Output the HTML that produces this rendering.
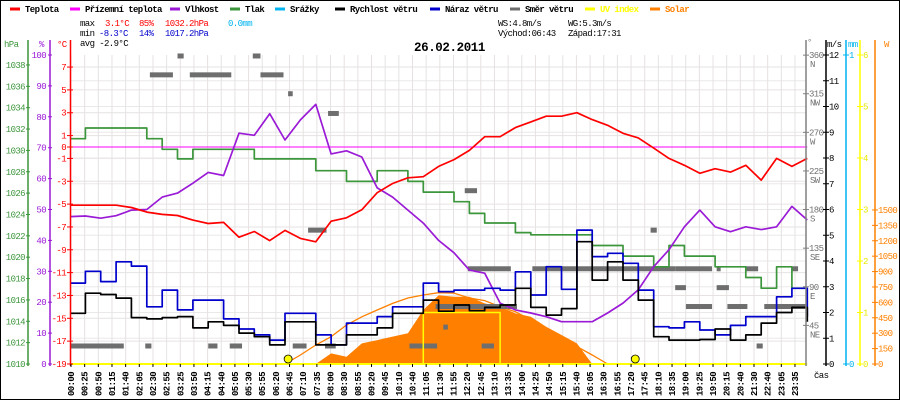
<!DOCTYPE html>
<html><head><meta charset="utf-8">
<style>
html,body{margin:0;padding:0;background:#fff;}
#wrap{position:relative;width:900px;height:400px;overflow:hidden;}
svg{display:block;font-family:"Liberation Mono","DejaVu Sans Mono",monospace;}
</style></head>
<body>
<div id="wrap">
<svg id="chart" width="900" height="400" viewBox="0 0 900 400">
<rect x="0.5" y="0.5" width="899" height="399" fill="#fff" stroke="#000"/>
<g id="grid"></g>
<g id="series"></g>
<g id="axes"></g>
<g id="legend"></g>
<g font-size="9" letter-spacing="-0.6">
<text x="80" y="26" fill="#000">max</text>
<text x="105" y="26" fill="#ff0000">3.1°C</text>
<text x="139" y="26" fill="#ff0000">85%</text>
<text x="165" y="26" fill="#ff0000">1032.2hPa</text>
<text x="228" y="26" fill="#00b4f0">0.0mm</text>
<text x="80" y="36" fill="#000">min</text>
<text x="99" y="36" fill="#0000cc">-8.3°C</text>
<text x="139" y="36" fill="#0000cc">14%</text>
<text x="165" y="36" fill="#0000cc">1017.2hPa</text>
<text x="80" y="46" fill="#000">avg -2.9°C</text>
<text x="498" y="26" fill="#000">WS:4.8m/s</text>
<text x="568" y="26" fill="#000">WG:5.3m/s</text>
<text x="498" y="36" fill="#000">Východ:06:43</text>
<text x="568" y="36" fill="#000">Západ:17:31</text>
</g>
<text x="414" y="51" font-size="12.5" font-weight="bold" letter-spacing="-0.4" fill="#000">26.02.2011</text>
</svg>
</div>
<script>
const timeLabels=["00:00","00:25","00:50","01:15","01:40","02:05","02:30","02:55","03:25","03:50","04:15","04:40","05:05","05:30","05:55","06:20","06:45","07:10","07:35","08:00","08:30","08:55","09:20","09:45","10:10","10:40","11:05","11:30","11:55","12:20","12:45","13:10","13:35","14:00","14:25","14:50","15:15","15:40","16:05","16:30","16:55","17:20","17:45","18:10","18:35","19:00","19:25","19:50","20:15","20:40","21:30","22:40","23:05","23:35"];
const temperature=[-5.1,-5.1,-5.1,-5.1,-5.3,-5.7,-5.9,-6.0,-6.4,-6.7,-6.6,-7.9,-7.4,-8.2,-7.3,-8.0,-8.3,-6.5,-6.2,-5.5,-4.0,-3.2,-2.7,-2.6,-1.7,-1.1,-0.3,0.9,0.9,1.7,2.2,2.7,2.7,3.0,2.4,1.9,1.2,0.8,-0.1,-1.0,-1.6,-2.3,-1.9,-2.2,-1.6,-2.9,-1.0,-1.7,-1.0];
const groundTemp=[0,0,0,0,0,0,0,0,0,0,0,0,0,0,0,0,0,0,0,0,0,0,0,0,0,0,0,0,0,0,0,0,0,0,0,0,0,0,0,0,0,0,0,0,0,0,0,0,0];
const humidity=[47.7,47.9,47.2,48,49.8,50,54,55.3,58.5,62,61,74.7,74,81,72.5,79,84,68,69,67,57,54,49.8,45.6,40,36,30.4,29.4,19.7,17.5,16.5,15.3,13.7,13.7,13.7,16.5,19.7,24,31.5,37,44.4,49.8,44.4,42.8,44.4,43.5,44.4,51,46.6];
const pressure=[1031.1,1032.1,1032.1,1032.1,1032.1,1031.1,1030.1,1029.2,1030.1,1030.1,1030.1,1030.1,1029.2,1029.2,1029.2,1029.2,1028.1,1028.1,1027.1,1027.1,1028.1,1028.1,1027.1,1026.1,1026.1,1025.2,1024.1,1023.2,1023.2,1022.3,1022.1,1022.1,1022.1,1022.1,1021.1,1021.1,1020.1,1020.1,1019.1,1021.1,1020.1,1020.1,1019.1,1019.1,1018.1,1017.1,1019.1,1017.1,1017.1];
const windSpeed=[1.97,2.75,2.7,2.56,1.8,1.75,1.8,1.84,1.4,1.64,1.5,1.2,1.06,0.74,1.64,1.64,0.74,0.74,1.13,1.13,1.4,1.97,1.97,2.48,2.05,2.29,2.07,2.2,2.29,2.94,2.2,1.9,2.15,4.75,3.26,3.97,3.26,2.48,1.06,0.93,0.93,0.95,1.36,0.93,1.13,1.59,2.0,2.2,1.64];
const windGust=[3.14,3.6,3.2,3.97,3.8,2.22,2.87,2.1,2.48,2.48,1.75,1.36,1.13,0.93,1.97,1.97,1.13,0.74,1.59,1.59,1.84,2.22,2.22,3.14,2.81,2.87,2.87,2.94,2.87,3.58,2.68,3.78,2.9,5.2,4.17,4.3,3.91,2.87,1.45,1.4,1.64,1.32,1.13,1.5,1.84,1.84,2.61,2.94,1.84];
const solar=[0,0,0,0,0,0,0,0,0,0,0,0,0,0,0,0,0,104,71,201,233,266,299,526,670,655,655,590,558,493,460,363,282,201,0,0,0,0,0,0,0,0,0,0,0,0,0,0,0];
const clearSky=[0,0,0,0,0,0,0,0,0,0,0,0,0,0,0,88,185,266,380,460,526,590,643,672,694,690,643,617,558,509,428,347,253,169,88,0,0,0,0,0,0,0,0,0,0,0,0,0,0];
const uvIndex=[0,0,0,0,0,0,0,0,0,0,0,0,0,0,0,0,0,0,0,0,0,0,0,1,1,1,1,1,0,0,0,0,0,0,0,0,0,0,0,0,0,0,0,0,0,0,0,0,0];
const dirStart=[7.0,11.9,5.2,7.8,12.4,14.2,16.8,25.7,25.9,30.1,15.5,0,4.9,9.0,10.4,14.5,16.6,22.1,26.8,28.5,37.8,39.4,42.1,44.0,47.0,39.4,42.1,23.8,40.1,42.8,45.2,24.3,44.7];
const dirEnd=[7.4,12.4,6.7,10.5,13.9,14.5,17.5,26.5,28.7,39.4,16.7,3.5,5.3,9.6,11.2,15.4,17.3,23.9,27.6,29.1,38.2,41.8,42.3,44.8,47.4,40.1,42.9,28.5,41.8,44.1,48.0,24.6,45.1];
const dirDeg=[359,359,337,337,337,315,292,202,111,111,156,21,21,21,21,21,21,21,21,67,156,111,111,111,111,89,89,67,67,67,67,43,21];
const sunIdx=[14.2,36.8];

const NS="http://www.w3.org/2000/svg";
const X0=70, DX=15.36;
const xS=i=>X0+i*DX;
const tempY=t=>147-t*11.42;
const humY=h=>364-h*3.09;
const presY=p=>364-(p-1010)*10.68;
const windY=v=>364-v*25.75;
const dirY=d=>364-d*0.858;
const solY=w=>364-w*0.1027;
const uvY=u=>364-u*51.5;
function el(tag,attrs,parent){const e=document.createElementNS(NS,tag);for(const k in attrs)e.setAttribute(k,attrs[k]);parent.appendChild(e);return e;}
const gGrid=document.getElementById('grid'),gS=document.getElementById('series'),gA=document.getElementById('axes'),gL=document.getElementById('legend');

const tempTicks=[7,5,3,1,-1,-3,-5,-7,-9,-11,-13,-15,-17];
tempTicks.forEach(t=>{const l=el('line',{x1:71,x2:806,y1:tempY(t),y2:tempY(t),stroke:'#e6e2e2','stroke-width':1},gGrid);

});
[1,2,3,4,5,6,7,8,9,10,11].forEach(v=>{const l=el('line',{x1:71,x2:806,y1:windY(v),y2:windY(v),stroke:'#ebe8e8','stroke-width':1},gGrid);

});
timeLabels.forEach((s,j)=>{const x=71+j*13.66;const l=el('line',{x1:x,x2:x,y1:55,y2:364,stroke:'#e6e2e2','stroke-width':1},gGrid);

});

let d='M'+xS(0)+','+solY(0);solar.forEach((w,i)=>{d+=' L'+xS(i)+','+solY(w);});d+=' L'+xS(solar.length-1)+','+solY(0)+' Z';
const sf=el('path',{d:d,fill:'#ff8000',stroke:'none'},gS);



function linePath(arr,yf){return arr.map((v,i)=>(i?'L':'M')+xS(i).toFixed(1)+','+yf(v).toFixed(1)).join(' ');}
function stepPath(arr,yf){let s='';arr.forEach((v,i)=>{const y=yf(v).toFixed(1);if(i===0)s='M'+xS(0)+','+y;else s+=' L'+xS(i).toFixed(1)+','+yf(arr[i-1]).toFixed(1)+' L'+xS(i).toFixed(1)+','+y;});return s;}

const cs=el('path',{d:clearSky.slice(14,36).map((v,k)=>(k?'L':'M')+xS(k+14).toFixed(1)+','+solY(v).toFixed(1)).join(' '),fill:'none',stroke:'#ff8000','stroke-width':1.3},gS);



dirDeg.forEach((dg,k)=>{const x1=xS(dirStart[k]),x2=xS(dirEnd[k]);const r=el('rect',{x:x1,y:dirY(dg)-2.5,width:Math.max(4,x2-x1),height:5,fill:'#6e6e6e'},gS);

});

const uvl=el('path',{d:stepPath(uvIndex,uvY),fill:'none',stroke:'#ffff00','stroke-width':1.5},gS);



const series=[[pressure,presY,'#3c963c','pressure-line',true],[groundTemp,tempY,'#ff00ff','ground-temp-line',false],[humidity,humY,'#9a1ad6','humidity-line',false],[temperature,tempY,'#ff0000','temperature-line',false],[windGust,windY,'#0000cc','wind-gust-line',true],[windSpeed,windY,'#000000','wind-speed-line',true]];
series.forEach(s=>{const p=el('path',{d:s[4]?stepPath(s[0],s[1]):linePath(s[0],s[1]),fill:'none',stroke:s[2],'stroke-width':s[3]==='ground-temp-line'?1:1.7,'stroke-linejoin':'round'},gS);

});

const base=el('line',{x1:71,x2:806,y1:364,y2:364,stroke:'#ffff00','stroke-width':2},gS);


sunIdx.forEach(i=>{const c=el('circle',{cx:xS(i),cy:359,r:4,fill:'#ffff00',stroke:'#000','stroke-width':0.8},gS);

});

function axis(x,y1,y2,color,name){const l=el('line',{x1:x,x2:x,y1:y1,y2:y2,stroke:color,'stroke-width':1.5},gA);

}
function label(x,y,txt,color,anchor,name){const t=el('text',{x:x,y:y,fill:color,'font-size':9,'letter-spacing':-0.6,'text-anchor':anchor||'start'},gA);t.textContent=txt;

return t;}
function tick(x1,x2,y,color){el('line',{x1:x1,x2:x2,y1:y,y2:y,stroke:color,'stroke-width':1},gA);}
axis(28,40,366,'#3c963c','pressure-axis');axis(50,40,366,'#9a1ad6','humidity-axis');axis(70.5,40,366,'#ff0000','temperature-axis');
axis(806,40,366,'#808080','direction-axis');axis(826,40,366,'#000','wind-axis');axis(846,40,366,'#00b4f0','rain-axis');axis(860,40,366,'#ffff00','uv-axis');axis(875,40,366,'#ff8000','solar-axis');
label(4,47,'hPa','#3c963c','start','pressure-axis-title');label(39,47,'%','#9a1ad6','start','humidity-axis-title');label(57,47,'°C','#ff0000','start','temperature-axis-title');
label(807,45,'°','#808080','start','direction-axis-title');label(827,47,'m/s','#000','start','wind-axis-title');label(848,47,'mm','#00b4f0','start','rain-axis-title');label(884,47,'W','#ff8000','start','solar-axis-title');
const presTicks=[1010,1012,1014,1016,1018,1020,1022,1024,1026,1028,1030,1032,1034,1036,1038];
presTicks.forEach(p=>{tick(26,30,presY(p),'#3c963c');label(25,presY(p)+3,String(p),'#3c963c','end','pressure-tick-label');});
const humTicks=[0,10,20,30,40,50,60,70,80,90,100];
humTicks.forEach(h=>{tick(48,52,humY(h),'#9a1ad6');label(46,humY(h)+3,String(h),'#9a1ad6','end','humidity-tick-label');});
const tempLabelTicks=[7,5,3,1,0,-1,-3,-5,-7,-9,-11,-13,-15,-17,-19];
tempLabelTicks.forEach(t=>{tick(67,73,tempY(t),'#ff0000');label(66,tempY(t)+3,String(t),'#ff0000','end','temperature-tick-label');});
const dirTicks=[360,315,270,225,180,135,90,45];const dirNames=['N','NW','W','SW','S','SE','E','NE'];
dirTicks.forEach((v,k)=>{tick(803,809,dirY(v),'#808080');label(809,dirY(v)+3,String(v),'#707070','start','direction-tick-label');label(810,dirY(v)+12,dirNames[k],'#707070','start','direction-name-label');});
const windTicks=[0,1,2,3,4,5,6,7,8,9,10,11,12];
windTicks.forEach(v=>{tick(823,829,windY(v),'#000');label(829,windY(v)+3,String(v),'#000','start','wind-tick-label');});
tick(843,849,55,'#00b4f0');label(849,58,'1','#00b4f0','start','rain-tick-label');tick(843,849,364,'#00b4f0');label(849,367,'0','#00b4f0','start','rain-tick-label');
[0,1,2,3,4,5,6].forEach(u=>{tick(857,863,uvY(u),'#ffff00');label(863,uvY(u)+3,String(u),'#e8e800','start','uv-tick-label');});
[0,150,300,450,600,750,900,1050,1200,1350,1500].forEach(w=>{tick(872,878,solY(w),'#ff8000');label(878,solY(w)+3,String(w),'#ff8000','start','solar-tick-label');});
timeLabels.forEach((s,j)=>{const x=71+j*13.66;el('line',{x1:x,x2:x,y1:364,y2:367,stroke:'#000','stroke-width':1},gA);
const t=el('text',{x:0,y:0,fill:'#000','font-size':9,'letter-spacing':-0.6,'font-weight':'bold',transform:'translate('+(x+3)+',396) rotate(-90)'},gA);t.textContent=s;

});
label(814,378,'čas','#000','start','x-axis-title');

const legNames=['Teplota','Přízemní teplota','Vlhkost','Tlak','Srážky','Rychlost větru','Náraz větru','Směr větru','UV index','Solar'];
const legColors=['#ff0000','#ff00ff','#9a1ad6','#3c963c','#00b4f0','#000000','#0000cc','#6e6e6e','#ffff00','#ff8000'];
const legX=[10,70,170,230,275,335,430,510,585,650];
legNames.forEach((n,k)=>{const g=el('g',{},gL);


el('line',{x1:legX[k],x2:legX[k]+10,y1:9,y2:9,stroke:legColors[k],'stroke-width':3},g);
const t=el('text',{x:legX[k]+15,y:12,fill:(k>=8?legColors[k]:'#000'),'font-size':9,'letter-spacing':-0.6,'font-weight':'bold'},g);t.textContent=n;});
</script>
</body></html>
